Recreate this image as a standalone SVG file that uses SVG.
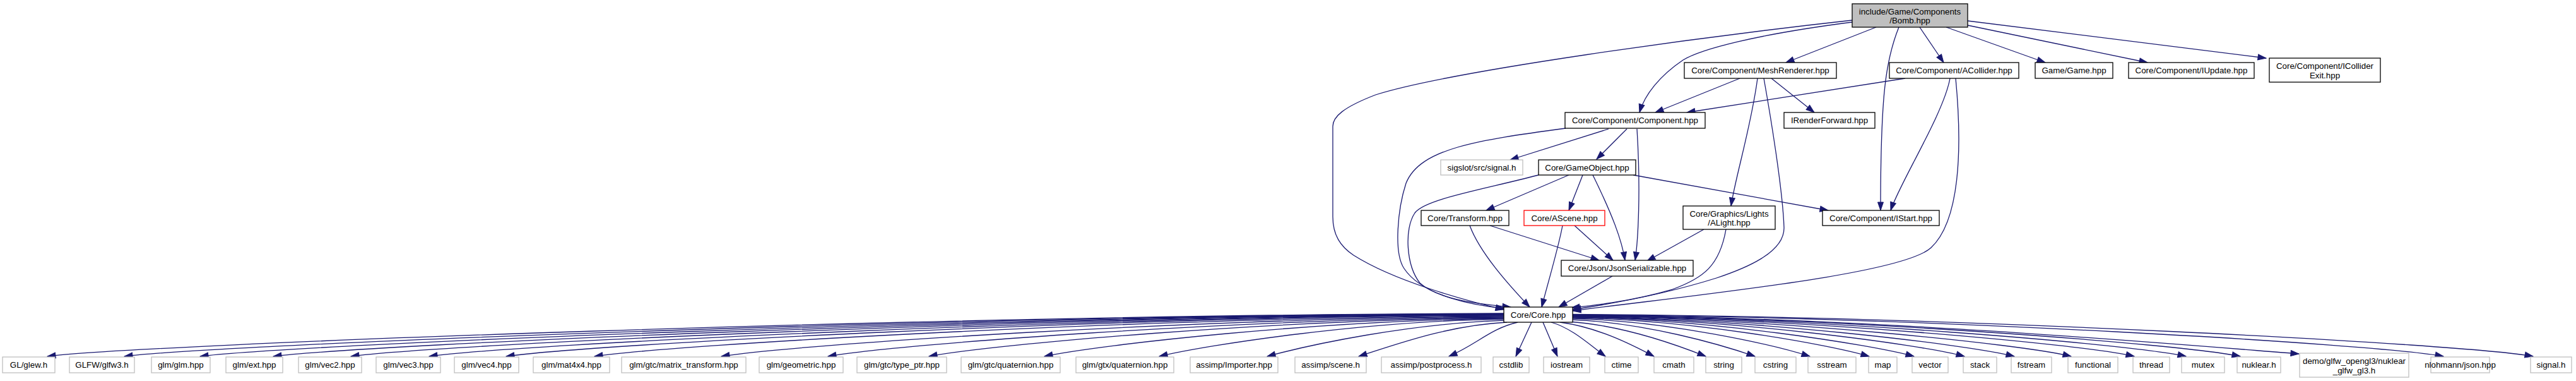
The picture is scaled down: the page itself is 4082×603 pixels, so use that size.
<svg xmlns="http://www.w3.org/2000/svg" width="4082" height="603" viewBox="0 0 4082 603">
<defs>
<marker id="ah" markerUnits="userSpaceOnUse" markerWidth="15" markerHeight="11" viewBox="0 0 15 11" refX="14" refY="5.5" orient="auto">
<path d="M1,1 L14,5.5 L1,10 z" fill="#191970" stroke="#191970" stroke-width="1"/>
</marker>
<style>
.n rect{fill:#ffffff;stroke:#000000;stroke-width:1.3}
.n.ext rect{stroke:#bfbfbf}
.n.root rect{fill:#bfbfbf}
.n.trunc rect{stroke:#ff0000}
.n text{font-family:"Liberation Sans",Arial,Helvetica,sans-serif;font-size:13.33px;fill:#000000;text-anchor:middle}
.e path{fill:none;stroke:#191970;stroke-width:1.3;marker-end:url(#ah)}
</style>
</defs>
<rect x="0" y="0" width="4082" height="603" fill="#ffffff"/>

<g id="edges" class="e">
<!-- Bomb -->
<path d="M2935,32 C2700,58 2300,112 2180,150 C2128,170 2112,185 2112,200 L2112,343 C2112,372 2124,390 2145,404 C2210,445 2320,475 2383,490"/>
<path d="M2935,35 C2780,55 2695,78 2667,95 C2630,120 2606,150 2598,178"/>
<path d="M2973,43 L2830,99"/>
<path d="M3009,43 C2988,95 2980,150 2980,333"/>
<path d="M3042,43 L3080,99"/>
<path d="M3084,43 L3241,99"/>
<path d="M3118,40 L3403,99"/>
<path d="M3118,33 L3591,92"/>
<!-- MeshRenderer -->
<path d="M2757,124 L2623,178"/>
<path d="M2785,124 C2775,200 2750,280 2743,326"/>
<path d="M2795,124 C2805,180 2825,300 2827,360 C2828,400 2765,425 2720,440 C2640,465 2560,480 2492,490"/>
<path d="M2807,124 L2875,178"/>
<!-- ACollider -->
<path d="M3019,124 L2673,178"/>
<path d="M3090,124 C3080,180 3010,290 2996,333"/>
<path d="M3099,124 C3110,240 3105,350 3060,392 C3015,434 2700,465 2492,492"/>
<!-- Component -->
<path d="M2549,204 L2393,253"/>
<path d="M2578,204 L2530,252"/>
<path d="M2481,203 C2340,222 2250,235 2228,290 C2215,330 2208,400 2225,425 C2255,470 2340,484 2384,488"/>
<path d="M2594,204 C2600,300 2596,380 2591,412"/>
<!-- GameObject -->
<path d="M2486,277 L2355,333"/>
<path d="M2508,277 L2486,333"/>
<path d="M2524,277 C2555,340 2570,380 2575,412"/>
<path d="M2438,277 C2350,300 2258,315 2242,337 C2225,362 2228,420 2250,448 C2280,475 2350,482 2394,486"/>
<path d="M2588,277 L2897,333"/>
<!-- Transform / AScene / ALight / Json -->
<path d="M2361,357 L2534,412"/>
<path d="M2329,357 C2345,400 2390,450 2424,486"/>
<path d="M2495,357 L2556,412"/>
<path d="M2476,357 C2470,390 2455,440 2443,486"/>
<path d="M2700,363 L2610,413"/>
<path d="M2735,363 C2725,420 2700,440 2650,458 C2580,478 2520,484 2490,487"/>
<path d="M2555,437 L2470,486"/>
<!-- Core to bottom row -->
<path d="M2383,496 C1460,499 230,545 75,564"/>
<path d="M2383,496.5 C1509,499.5 352,545 197,564"/>
<path d="M2383,497 C1557,500 472,545 317,564"/>
<path d="M2383,497.5 C1603,500.5 588,545 433,564"/>
<path d="M2383,498 C1652,501 700,545 556,564"/>
<path d="M2383,498.5 C1702,501.5 820,545 680,564"/>
<path d="M2383,499 C1751,502 937,545 802,564"/>
<path d="M2383,500 C1807,503 1072,545 942,564"/>
<path d="M2383,501 C1887,504 1263,545 1143,564"/>
<path d="M2383,502 C1955,505 1422,545 1312,564"/>
<path d="M2383,503 C2019,506 1572,545 1472,564"/>
<path d="M2383,504 C2092,507 1745,545 1655,564"/>
<path d="M2383,505 C2165,508 1917,545 1837,564"/>
<path d="M2384,507 C2234,512 2078,545 2008,564"/>
<path d="M2388,510 C2294,515 2213,545 2153,564"/>
<path d="M2405,510 C2362,520 2340,545 2296,564"/>
<path d="M2427,510 L2402,564"/>
<path d="M2445,510 L2468,564"/>
<path d="M2458,510 C2492,520 2518,545 2544,564"/>
<path d="M2472,510 C2532,518 2585,545 2621,564"/>
<path d="M2486,509 C2573,515 2655,545 2703,564"/>
<path d="M2492,506 C2608,511 2726,545 2781,564"/>
<path d="M2492,504 C2642,508 2808,545 2868,564"/>
<path d="M2492,503 C2680,506 2897,545 2962,564"/>
<path d="M2492,502 C2708,505 2963,545 3033,564"/>
<path d="M2492,501.5 C2740,504.5 3043,545 3113,564"/>
<path d="M2492,501 C2772,504 3117,545 3192,564"/>
<path d="M2492,500.5 C2808,503.5 3207,545 3282,564"/>
<path d="M2492,500 C2848,503 3302,545 3382,564"/>
<path d="M2492,499.5 C2881,502.5 3379,545 3464,564"/>
<path d="M2492,499 C2915,502 3460,545 3550,564"/>
<path d="M2492,498.5 C2952,501.5 3450,545 3643,560"/>
<path d="M2492,498 C3044,501 3772,545 3872,564"/>
<path d="M2492,497.5 C3101,500.5 3914,545 4014,564"/>
</g>

<g id="node_bomb" class="n root"><rect x="2935" y="6" width="183" height="37"/><text x="3026.5" y="22.5">include/Game/Components</text><text x="3026.5" y="37">/Bomb.hpp</text></g>
<g id="node_meshrenderer" class="n"><rect x="2669" y="99" width="241" height="25"/><text x="2789.5" y="116">Core/Component/MeshRenderer.hpp</text></g>
<g id="node_acollider" class="n"><rect x="2994" y="99" width="205" height="25"/><text x="3096.5" y="116">Core/Component/ACollider.hpp</text></g>
<g id="node_game" class="n"><rect x="3225" y="99" width="123" height="25"/><text x="3286.5" y="116">Game/Game.hpp</text></g>
<g id="node_iupdate" class="n"><rect x="3373" y="99" width="199" height="25"/><text x="3472.5" y="116">Core/Component/IUpdate.hpp</text></g>
<g id="node_icolliderexit" class="n"><rect x="3596" y="92" width="176" height="38"/><text x="3684" y="109">Core/Component/ICollider</text><text x="3684" y="123.5">Exit.hpp</text></g>
<g id="node_component" class="n"><rect x="2480" y="178" width="222" height="25"/><text x="2591" y="195">Core/Component/Component.hpp</text></g>
<g id="node_irenderforward" class="n"><rect x="2827" y="178" width="144" height="25"/><text x="2899" y="195">IRenderForward.hpp</text></g>
<g id="node_sigslot" class="n ext"><rect x="2283" y="253" width="130" height="24"/><text x="2348" y="269.5">sigslot/src/signal.h</text></g>
<g id="node_gameobject" class="n"><rect x="2438" y="253" width="154" height="24"/><text x="2515" y="269.5">Core/GameObject.hpp</text></g>
<g id="node_transform" class="n"><rect x="2252" y="333" width="139" height="24"/><text x="2321.5" y="349.5">Core/Transform.hpp</text></g>
<g id="node_ascene" class="n trunc"><rect x="2415" y="333" width="128" height="24"/><text x="2479" y="349.5">Core/AScene.hpp</text></g>
<g id="node_alight" class="n"><rect x="2667" y="326" width="146" height="37"/><text x="2740" y="342.5">Core/Graphics/Lights</text><text x="2740" y="357">/ALight.hpp</text></g>
<g id="node_istart" class="n"><rect x="2888" y="333" width="185" height="24"/><text x="2980.5" y="349.5">Core/Component/IStart.hpp</text></g>
<g id="node_json" class="n"><rect x="2474" y="412" width="209" height="25"/><text x="2578.5" y="429">Core/Json/JsonSerializable.hpp</text></g>
<g id="node_core" class="n"><rect x="2383" y="486" width="109" height="24"/><text x="2437.5" y="502.5">Core/Core.hpp</text></g>

<g id="node_glew" class="n ext"><rect x="4" y="565" width="83" height="25"/><text x="45.5" y="582">GL/glew.h</text></g>
<g id="node_glfw" class="n ext"><rect x="110" y="565" width="103" height="25"/><text x="161.5" y="582">GLFW/glfw3.h</text></g>
<g id="node_glm" class="n ext"><rect x="240" y="565" width="93" height="25"/><text x="286.5" y="582">glm/glm.hpp</text></g>
<g id="node_ext" class="n ext"><rect x="358" y="565" width="90" height="25"/><text x="403" y="582">glm/ext.hpp</text></g>
<g id="node_vec2" class="n ext"><rect x="473" y="565" width="100" height="25"/><text x="523" y="582">glm/vec2.hpp</text></g>
<g id="node_vec3" class="n ext"><rect x="596" y="565" width="102" height="25"/><text x="647" y="582">glm/vec3.hpp</text></g>
<g id="node_vec4" class="n ext"><rect x="720" y="565" width="102" height="25"/><text x="771" y="582">glm/vec4.hpp</text></g>
<g id="node_mat4x4" class="n ext"><rect x="845" y="565" width="121" height="25"/><text x="905.5" y="582">glm/mat4x4.hpp</text></g>
<g id="node_matrix_transform" class="n ext"><rect x="985" y="565" width="197" height="25"/><text x="1083.5" y="582">glm/gtc/matrix_transform.hpp</text></g>
<g id="node_geometric" class="n ext"><rect x="1203" y="565" width="133" height="25"/><text x="1269.5" y="582">glm/geometric.hpp</text></g>
<g id="node_type_ptr" class="n ext"><rect x="1358" y="565" width="142" height="25"/><text x="1429" y="582">glm/gtc/type_ptr.hpp</text></g>
<g id="node_gtc_quaternion" class="n ext"><rect x="1523" y="565" width="157" height="25"/><text x="1601.5" y="582">glm/gtc/quaternion.hpp</text></g>
<g id="node_gtx_quaternion" class="n ext"><rect x="1705" y="565" width="155" height="25"/><text x="1782.5" y="582">glm/gtx/quaternion.hpp</text></g>
<g id="node_importer" class="n ext"><rect x="1886" y="565" width="139" height="25"/><text x="1955.5" y="582">assimp/Importer.hpp</text></g>
<g id="node_scene" class="n ext"><rect x="2052" y="565" width="113" height="25"/><text x="2108.5" y="582">assimp/scene.h</text></g>
<g id="node_postprocess" class="n ext"><rect x="2189" y="565" width="158" height="25"/><text x="2268" y="582">assimp/postprocess.h</text></g>
<g id="node_cstdlib" class="n ext"><rect x="2366" y="565" width="57" height="25"/><text x="2394.5" y="582">cstdlib</text></g>
<g id="node_iostream" class="n ext"><rect x="2446" y="565" width="73" height="25"/><text x="2482.5" y="582">iostream</text></g>
<g id="node_ctime" class="n ext"><rect x="2543" y="565" width="53" height="25"/><text x="2569.5" y="582">ctime</text></g>
<g id="node_cmath" class="n ext"><rect x="2621" y="565" width="63" height="25"/><text x="2652.5" y="582">cmath</text></g>
<g id="node_string" class="n ext"><rect x="2703" y="565" width="57" height="25"/><text x="2731.5" y="582">string</text></g>
<g id="node_cstring" class="n ext"><rect x="2781" y="565" width="65" height="25"/><text x="2813.5" y="582">cstring</text></g>
<g id="node_sstream" class="n ext"><rect x="2865" y="565" width="76" height="25"/><text x="2903" y="582">sstream</text></g>
<g id="node_map" class="n ext"><rect x="2961" y="565" width="45" height="25"/><text x="2983.5" y="582">map</text></g>
<g id="node_vector" class="n ext"><rect x="3030" y="565" width="57" height="25"/><text x="3058.5" y="582">vector</text></g>
<g id="node_stack" class="n ext"><rect x="3111" y="565" width="53" height="25"/><text x="3137.5" y="582">stack</text></g>
<g id="node_fstream" class="n ext"><rect x="3187" y="565" width="64" height="25"/><text x="3219" y="582">fstream</text></g>
<g id="node_functional" class="n ext"><rect x="3277" y="565" width="79" height="25"/><text x="3316.5" y="582">functional</text></g>
<g id="node_thread" class="n ext"><rect x="3380" y="565" width="58" height="25"/><text x="3409" y="582">thread</text></g>
<g id="node_mutex" class="n ext"><rect x="3457" y="565" width="68" height="25"/><text x="3491" y="582">mutex</text></g>
<g id="node_nuklear" class="n ext"><rect x="3545" y="565" width="69" height="25"/><text x="3579.5" y="582">nuklear.h</text></g>
<g id="node_demo" class="n ext"><rect x="3644" y="559" width="173" height="38"/><text x="3730.5" y="576">demo/glfw_opengl3/nuklear</text><text x="3730.5" y="590.5">_glfw_gl3.h</text></g>
<g id="node_nlohmann" class="n ext"><rect x="3852" y="565" width="93" height="25"/><text x="3898.5" y="582">nlohmann/json.hpp</text></g>
<g id="node_signal" class="n ext"><rect x="4010" y="565" width="65" height="25"/><text x="4042.5" y="582">signal.h</text></g>
</svg>
